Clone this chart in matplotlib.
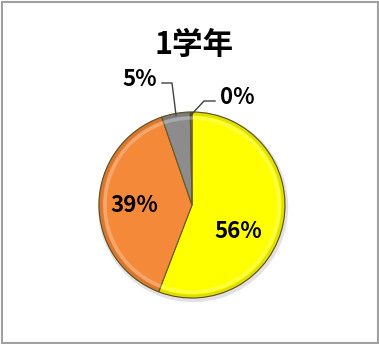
import numpy as np
import matplotlib.pyplot as plt

plt.rcParams['font.family'] = ['Noto Sans CJK JP', 'DejaVu Sans']

title = '1学年'
values = [56, 39, 5, 0.3]
labels = ['56%', '39%', '5%', '0%']
colors = ['#FFFF00', '#F4893A', '#8C8C8C', '#6E6E6E']

fig = plt.figure(figsize=(3.79, 3.44), dpi=100)
ax = fig.add_axes([0, 0, 1, 1])

cx, cy, r = 192, 139, 93
# soft shadow
ax.add_patch(plt.Circle((cx + 1, cy - 2), r + 1.5, color='#E2E2E2', zorder=1))
wedges, _ = ax.pie(values, colors=colors, startangle=90, counterclock=False,
                   center=(cx, cy), radius=r, frame=True,
                   wedgeprops=dict(edgecolor='#6A5A20', linewidth=0.8))
for w in wedges:
    w.set_zorder(2)
ax.set_xlim(0, 379)
ax.set_ylim(0, 344)
ax.set_aspect('equal')
ax.axis('off')

# chart frame
ax.add_patch(plt.Rectangle((1.5, 1.5), 376, 341, fill=False, ec='#A0A0A0', lw=1.5))

# bevel: darker rim and light inner ring
ax.add_patch(plt.Circle((cx, cy), r - 1.5, fill=False, ec='black', lw=3, alpha=0.12, zorder=3))
ax.add_patch(plt.Circle((cx, cy), r - 6, fill=False, ec='white', lw=2.5, alpha=0.25, zorder=3))

fs = 16
ax.text(238, 113, labels[0], ha='center', va='center', fontsize=fs, fontweight='bold', zorder=5)
ax.text(134, 138, labels[1], ha='center', va='center', fontsize=fs, fontweight='bold', zorder=5)
ax.text(140, 265, labels[2], ha='center', va='center', fontsize=fs, fontweight='bold', zorder=5)
ax.text(237, 247, labels[3], ha='center', va='center', fontsize=fs, fontweight='bold', zorder=5)

# leader lines
ax.plot([162, 172, 176], [261, 261, 229], color='#404040', lw=1, zorder=4)
ax.plot([215, 204, 191], [243, 243, 229], color='#404040', lw=1, zorder=4)

ax.text(194, 299, title, ha='center', va='center', fontsize=22,
        fontweight='bold', style='italic')

fig.savefig('out.png', dpi=100)
